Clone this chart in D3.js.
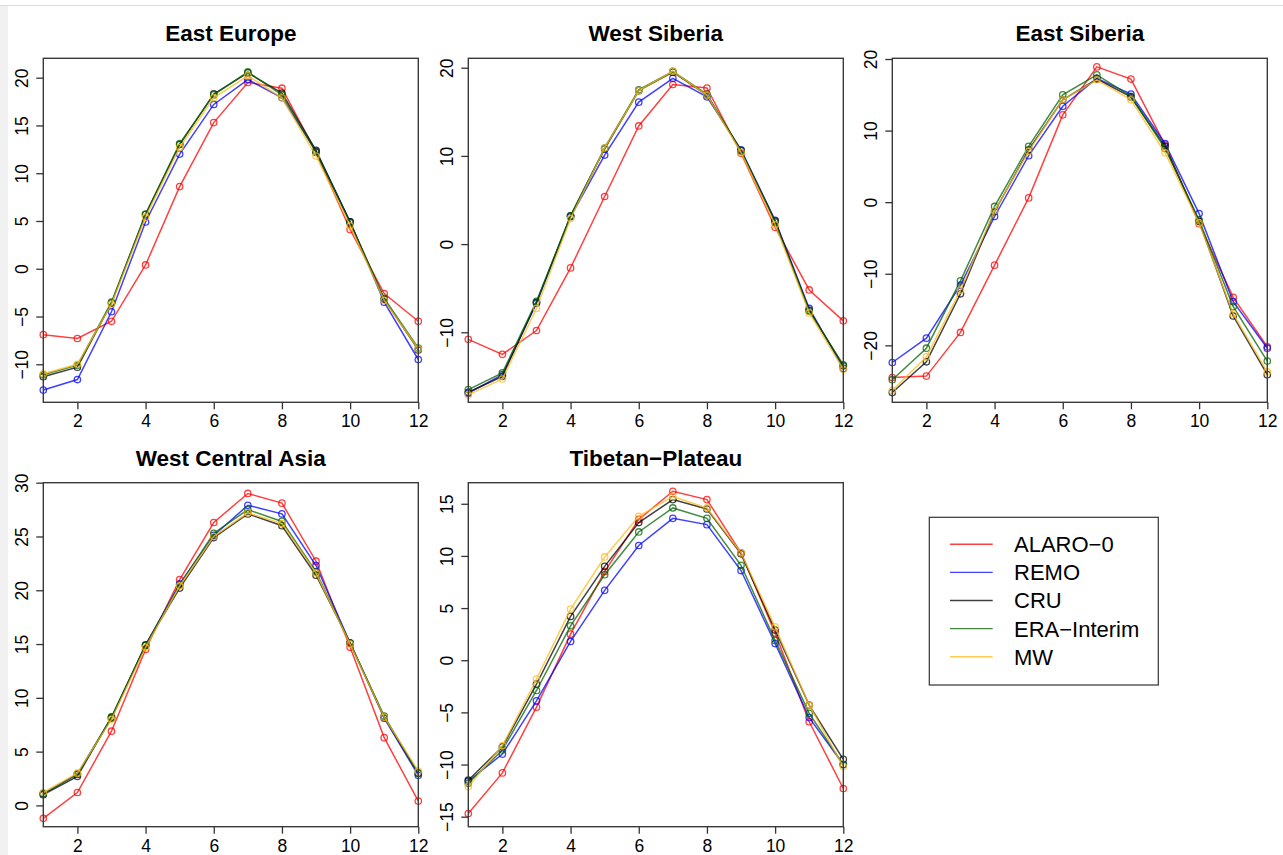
<!DOCTYPE html>
<html>
<head>
<meta charset="utf-8">
<script src="https://cdn.jsdelivr.net/npm/d3@7"></script>
<style>
	body { margin: 0; background: #fff; }
	text { font-family: "Liberation Sans", Arial, sans-serif; fill: #000; }
</style>
</head>
<body>
<script>
// months on the x axis
var months = [1, 2, 3, 4, 5, 6, 7, 8, 9, 10, 11, 12];
var xTicks = [2, 4, 6, 8, 10, 12];

// series: ALARO-0, REMO, CRU, ERA-Interim, MW
var seriesNames = ["ALARO\u22120", "REMO", "CRU", "ERA\u2212Interim", "MW"];
var seriesColors = ["#ff0000", "#0000ff", "#000000", "#006400", "#ffbb1a"];

var regionNames = ["East Europe", "West Siberia", "East Siberia", "West Central Asia", "Tibetan\u2212Plateau"];

// monthly temperature per region, one row per series (same order as seriesNames)
var eastEurope = [
	[-6.9, -7.3, -5.5, 0.4, 8.6, 15.3, 19.5, 18.9, 12.2, 4.1, -2.6, -5.5],
	[-12.7, -11.6, -4.5, 4.9, 12.0, 17.2, 19.8, 17.9, 12.3, 4.9, -3.5, -9.5],
	[-11.3, -10.3, -3.6, 5.7, 13.0, 18.3, 20.5, 18.4, 12.4, 4.9, -3.2, -8.5],
	[-11.1, -10.1, -3.5, 5.7, 13.1, 18.2, 20.6, 18.2, 12.2, 4.8, -3.1, -8.3],
	[-11.0, -10.0, -3.7, 5.4, 12.7, 17.9, 20.2, 17.9, 11.8, 4.5, -3.3, -8.4]
];
var westSiberia = [
	[-10.8, -12.5, -9.8, -2.7, 5.4, 13.4, 18.1, 17.7, 10.3, 1.9, -5.2, -8.7],
	[-16.9, -14.8, -6.7, 3.1, 10.1, 16.1, 18.8, 16.7, 10.7, 2.7, -7.3, -14.1],
	[-16.8, -15.0, -6.6, 3.2, 10.8, 17.4, 19.5, 16.9, 10.6, 2.6, -7.5, -13.8],
	[-16.5, -14.6, -6.5, 3.2, 10.9, 17.5, 19.6, 17.0, 10.6, 2.5, -7.6, -13.7],
	[-17.1, -15.3, -7.3, 2.9, 10.9, 17.4, 19.6, 16.9, 10.4, 2.2, -7.8, -14.2]
];
var eastSiberia = [
	[-24.5, -24.3, -18.2, -8.8, 0.6, 12.2, 18.9, 17.2, 8.0, -3.0, -13.3, -20.2],
	[-22.4, -19.0, -11.6, -2.0, 6.5, 13.4, 17.3, 15.1, 8.2, -1.6, -13.9, -20.4],
	[-26.6, -22.3, -12.8, -1.3, 7.3, 14.3, 17.2, 14.7, 7.8, -2.7, -15.9, -24.1],
	[-24.8, -20.4, -11.0, -0.6, 7.8, 15.0, 17.8, 14.8, 7.5, -2.5, -14.6, -22.2],
	[-26.3, -21.6, -12.3, -1.2, 7.1, 14.3, 17.1, 14.3, 6.9, -2.9, -15.6, -23.7]
];
var westCentralAsia = [
	[-1.2, 1.2, 6.9, 14.5, 21.0, 26.3, 29.0, 28.1, 22.7, 14.7, 6.3, 0.4],
	[1.1, 2.9, 8.1, 14.9, 20.6, 25.1, 27.9, 27.1, 22.3, 15.1, 8.1, 2.8],
	[1.0, 2.7, 8.2, 14.9, 20.2, 24.9, 27.1, 26.0, 21.4, 15.1, 8.2, 3.0],
	[1.1, 2.9, 8.2, 14.9, 20.5, 25.3, 27.5, 26.4, 21.7, 15.1, 8.3, 3.0],
	[1.2, 3.0, 8.0, 14.7, 20.4, 25.0, 27.2, 26.2, 21.6, 15.0, 8.2, 3.2]
];
var tibetanPlateau = [
	[-14.7, -10.8, -4.5, 2.5, 8.5, 13.5, 16.2, 15.4, 10.3, 2.6, -5.9, -12.3],
	[-11.6, -9.0, -3.9, 1.8, 6.7, 11.0, 13.6, 13.0, 8.6, 1.6, -5.5, -10.0],
	[-11.5, -8.3, -2.3, 4.2, 9.0, 13.2, 15.4, 14.5, 10.2, 2.9, -4.3, -9.5],
	[-11.8, -8.6, -2.9, 3.3, 8.2, 12.3, 14.6, 13.6, 9.1, 1.9, -5.1, -10.0],
	[-12.1, -8.2, -1.8, 4.9, 9.9, 13.8, 15.7, 14.6, 10.3, 3.2, -4.3, -10.2]
];
var regionData = [eastEurope, westSiberia, eastSiberia, westCentralAsia, tibetanPlateau];

// axis limits and tick labels per panel
var yLimits = [[-13.98, 22.03], [-17.94, 21.07], [-27.96, 20.1], [-1.98, 30], [-15.96, 17.02]];
var yTicks = [
	[-10, -5, 0, 5, 10, 15, 20],
	[-10, 0, 10, 20],
	[-20, -10, 0, 10, 20],
	[0, 5, 10, 15, 20, 25, 30],
	[-15, -10, -5, 0, 5, 10, 15]
];

var w = 1283;
var h = 855;
var colLeft = [43.3, 468.3, 892.3];
var rowTop = [58.3, 482.7];
var pw = 375;
var ph = 344;

var svg = d3.select("body")
	.append("svg")
	.attr("width", w)
	.attr("height", h);

// screenshot frame
svg.append("rect")
	.attr("x", 0).attr("y", 6)
	.attr("width", 8).attr("height", h - 6)
	.attr("fill", "#f1f1f1");
svg.append("line")
	.attr("x1", 0).attr("x2", w)
	.attr("y1", 5.5).attr("y2", 5.5)
	.attr("stroke", "#dcdcdc");

regionNames.forEach((name, i) => {
	var left = colLeft[i % 3];
	var top = rowTop[Math.floor(i / 3)];

	var xScale = d3.scaleLinear()
		.domain([1, 12])
		.range([left, left + pw]);
	var yScale = d3.scaleLinear()
		.domain(yLimits[i])
		.range([top + ph, top]);

	var panel = svg.append("g").attr("class", "panel");

	// series lines + open circles
	regionData[i].forEach((vals, s) => {
		var line = d3.line()
			.x((d, k) => xScale(months[k]))
			.y(d => yScale(d));
		panel.append("path")
			.datum(vals)
			.attr("d", line)
			.attr("fill", "none")
			.attr("stroke", seriesColors[s])
			.attr("stroke-opacity", 0.75)
			.attr("stroke-width", 1.5);
		panel.selectAll(null)
			.data(vals)
			.enter()
			.append("circle")
			.attr("cx", (d, k) => xScale(months[k]))
			.attr("cy", d => yScale(d))
			.attr("r", 3.2)
			.attr("fill", "none")
			.attr("stroke", seriesColors[s])
			.attr("stroke-opacity", 0.75)
			.attr("stroke-width", 1.3);
	});

	// box
	panel.append("rect")
		.attr("x", left)
		.attr("y", top)
		.attr("width", pw)
		.attr("height", ph)
		.attr("fill", "none")
		.attr("stroke", "#3a3a3a")
		.attr("stroke-width", 1.4);

	// x axis
	var xAxis = d3.axisBottom(xScale)
		.tickValues(xTicks)
		.tickSize(7)
		.tickSizeOuter(0);
	var gx = panel.append("g")
		.attr("transform", "translate(0," + (top + ph) + ")")
		.call(xAxis);
	gx.select(".domain").remove();
	gx.selectAll("line").attr("stroke", "#333").attr("stroke-width", 1.3);
	gx.selectAll("text")
		.attr("y", 12.5)
		.attr("dy", "0.71em")
		.attr("font-size", "17.5px");

	// y axis, labels rotated like base R
	var yAxis = d3.axisLeft(yScale)
		.tickValues(yTicks[i])
		.tickSize(7)
		.tickFormat(d => d < 0 ? "\u2212" + Math.abs(d) : d)
		.tickSizeOuter(0);
	var gy = panel.append("g")
		.attr("transform", "translate(" + left + ",0)")
		.call(yAxis);
	gy.select(".domain").remove();
	gy.selectAll("line").attr("stroke", "#333").attr("stroke-width", 1.3);
	gy.selectAll("text")
		.attr("x", 0)
		.attr("y", -15.5)
		.attr("dy", 0)
		.attr("text-anchor", "middle")
		.attr("transform", "rotate(-90)")
		.attr("font-size", "17.5px");

	// title
	panel.append("text")
		.text(name)
		.attr("x", left + pw / 2)
		.attr("y", top - 17)
		.attr("text-anchor", "middle")
		.attr("font-weight", "bold")
		.attr("font-size", "22.5px");
});

// legend
var legendBox = svg.append("g").attr("class", "legend");
legendBox.append("rect")
	.attr("x", 929.3)
	.attr("y", 517.3)
	.attr("width", 229)
	.attr("height", 167.7)
	.attr("fill", "#fff")
	.attr("stroke", "#333")
	.attr("stroke-width", 1.2);

var legendRows = legendBox.selectAll(".row")
	.data(seriesNames)
	.enter().append("g")
	.attr("class", "row")
	.attr("transform", (d, i) => "translate(950," + (544.3 + i * 28.1) + ")");

legendRows.append("line")
	.attr("x1", 0).attr("x2", 42.7)
	.attr("stroke", (d, i) => seriesColors[i])
	.attr("stroke-opacity", 0.75)
	.attr("stroke-width", 1.4);

legendRows.append("text")
	.attr("x", 64)
	.attr("dy", "0.36em")
	.attr("font-size", "22px")
	.text(d => d);
</script>
</body>
</html>
